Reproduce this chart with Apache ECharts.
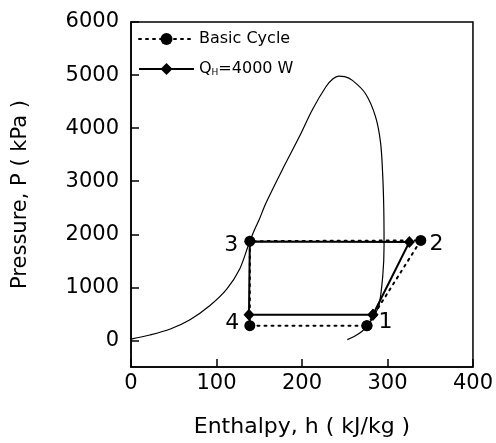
<!DOCTYPE html>
<html>
<head>
<meta charset="utf-8">
<script src="https://cdn.jsdelivr.net/npm/echarts@6/dist/echarts.min.js"></script>
<style>
  html, body { margin: 0; padding: 0; background: #fff; }
  #main { width: 496px; height: 443px; }
</style>
</head>
<body>
<div id="main"></div>
<script>
// saturation dome (enthalpy kJ/kg, pressure kPa), left to right along the curve
var domeH = [0, 22, 46, 69, 92, 112, 127, 137, 143, 150, 158, 177, 197, 212, 228, 236, 243, 250, 259, 274, 286, 292, 294.5, 295.7, 296, 294.5, 290, 284, 278, 270, 262, 253];
var domeP = [25, 103, 216, 390, 653, 966, 1341, 1779, 2030, 2280, 2593, 3218, 3842, 4343, 4780, 4925, 4980, 4972, 4900, 4657, 4218, 3718, 3092, 2467, 1779, 1216, 653, 465, 300, 170, 85, 15];

// basic cycle, states 1-2-3-4-1
var basicH = [276, 339, 139, 139, 276];
var basicP = [278, 1885, 1870, 278, 278];

// Q_H = 4000 W cycle
var qhH = [283, 325.6, 139, 138, 283];
var qhP = [484, 1854, 1865, 484, 484];

// state numbers
var stateNames = ['1', '2', '3', '4'];
var stateH = [297.7, 357.4, 117.4, 118.5];
var stateP = [347, 1810, 1792, 330];

var yTicks = [0, 1000, 2000, 3000, 4000, 5000, 6000];
var xTicks = [0, 100, 200, 300, 400];

function pairs(a, b) {
  var out = [];
  for (var i = 0; i < a.length; i++) {
    out.push([a[i], b[i]]);
  }
  return out;
}

var labelData = [];
for (var i = 0; i < stateNames.length; i++) {
  labelData.push({ value: [stateH[i], stateP[i]], name: stateNames[i] });
}

var font = 'DejaVu Sans';
var myChart = echarts.init(document.getElementById('main'), null, { renderer: 'canvas' });

var option = {
  animation: false,
  backgroundColor: '#fff',
  grid: {
    left: 131, right: 21, top: 22, bottom: 75,
    show: true, borderColor: '#000', borderWidth: 1.5, backgroundColor: 'transparent'
  },
  legend: {
    orient: 'vertical',
    left: 133, top: 26,
    itemWidth: 55, itemHeight: 15, itemGap: 14,
    textStyle: {
      fontFamily: font, fontSize: 16, color: '#000',
      rich: {
        a: { fontFamily: font, fontSize: 16, color: '#000' },
        s: { fontFamily: font, fontSize: 9, color: '#000', verticalAlign: 'bottom', padding: [8, 0, 0, 0] }
      }
    },
    formatter: function (name) {
      if (name === 'QH') return '{a|Q}{s|H}{a|=4000 W}';
      return name;
    },
    data: ['Basic Cycle', 'QH']
  },
  xAxis: {
    type: 'value', min: 0, max: 400,
    name: 'Enthalpy, h ( kJ/kg )', nameLocation: 'middle', nameGap: 49,
    nameTextStyle: { fontFamily: font, fontSize: 22, color: '#000' },
    axisLine: { show: true, onZero: false, lineStyle: { color: '#000', width: 1.5 } },
    axisTick: { show: true, inside: true, length: 8, customValues: xTicks, lineStyle: { color: '#000', width: 1.5 } },
    axisLabel: {
      customValues: xTicks, margin: 6, fontFamily: font, fontSize: 21, color: '#000',
      formatter: function (v) { return String(v); }
    },
    splitLine: { show: false }
  },
  yAxis: {
    type: 'value', min: -500, max: 6000,
    name: 'Pressure, P ( kPa )', nameLocation: 'middle', nameGap: 100,
    nameTextStyle: { fontFamily: font, fontSize: 21, color: '#000' },
    axisLine: { show: true, onZero: false, lineStyle: { color: '#000', width: 1.5 } },
    axisTick: { show: true, inside: true, length: 8, customValues: yTicks, lineStyle: { color: '#000', width: 1.5 } },
    axisLabel: {
      customValues: yTicks, margin: 12, fontFamily: font, fontSize: 21, color: '#000', padding: [0, 0, 6, 0],
      formatter: function (v) { return String(v); }
    },
    splitLine: { show: false }
  },
  series: [
    {
      name: 'dome', type: 'line', data: pairs(domeH, domeP),
      smooth: 0.3, showSymbol: false, symbol: 'none',
      lineStyle: { color: '#000', width: 1.2 }, z: 1
    },
    {
      name: 'QH', type: 'line', data: pairs(qhH, qhP),
      symbol: 'diamond', symbolSize: [11, 12],
      itemStyle: { color: '#000' },
      lineStyle: { color: '#000', width: 2 }, z: 2
    },
    {
      name: 'Basic Cycle', type: 'line', data: pairs(basicH, basicP),
      symbol: 'circle', symbolSize: 11,
      itemStyle: { color: '#000' },
      lineStyle: { color: '#000', width: 2, type: [2, 5], cap: 'round' }, z: 3
    },
    {
      name: 'states', type: 'scatter', data: labelData,
      symbolSize: 0, silent: true,
      itemStyle: { opacity: 1, color: '#000' },
      label: {
        show: true, position: 'inside', formatter: '{b}',
        fontFamily: font, fontSize: 22, color: '#000', opacity: 1
      }
    }
  ]
};

myChart.setOption(option);
</script>
</body>
</html>
